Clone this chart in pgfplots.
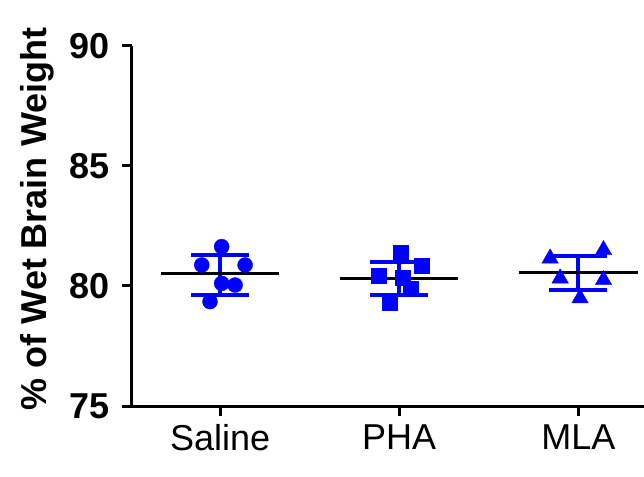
\documentclass[border=0pt]{standalone}
\usepackage{pgfplots}
\pgfplotsset{compat=1.18}
\usepackage{fontspec}
\setmainfont{Liberation Sans}

\begin{document}
\begin{tikzpicture}
\begin{axis}[
  scale only axis,
  width=512.3bp, height=360bp,
  xmin=0.507, xmax=3.366,
  ymin=75, ymax=90,
  axis lines=left,
  axis line style={-, line width=3bp},
  xtick={1,2,3},
  xticklabels={Saline,PHA,MLA},
  ytick={75,80,85,90},
  tick align=outside,
  major tick length=10bp,
  every tick/.style={black, line width=3bp},
  /pgf/number format/assume math mode=true,
  tick label style={font=\fontsize{36bp}{43bp}\selectfont},
  yticklabel style={font=\fontsize{36bp}{43bp}\selectfont\bfseries, xshift=-9bp},
  xticklabel style={yshift=-5bp},
  ylabel={\% of Wet Brain Weight},
  ylabel style={font=\fontsize{36bp}{43bp}\selectfont\bfseries, xshift=7bp},
  ylabel shift=8bp,
  clip=false,
]
% individual points
\addplot[only marks, mark=*, mark size=7.5bp, blue, mark options={fill=blue, draw=blue}]
  coordinates {(1.009,81.64) (0.898,80.875) (1.140,80.875) (1.009,80.11) (1.084,80.04) (0.944,79.35)};
\addplot[only marks, mark=square*, mark size=7.5bp, blue, mark options={fill=blue, draw=blue}]
  coordinates {(2.008,81.39) (2.128,80.83) (1.883,80.43) (2.017,80.36) (2.064,79.90) (1.948,79.30)};
\addplot[only marks, mark=triangle*, mark size=9.5bp, blue, mark options={fill=blue, draw=blue}]
  coordinates {(3.140,81.50) (2.842,81.15) (2.898,80.32) (3.140,80.25) (3.009,79.49)};
% SD bars
\addplot[draw=none, mark=none, blue,
  error bars/.cd, y dir=both, y explicit,
  error bar style={blue, line width=4bp},
  error mark options={blue, line width=4bp, mark size=29bp, rotate=90}]
  coordinates {(1,80.46) +- (0,0.83) (2,80.32) +- (0,0.69) (3,80.53) +- (0,0.70)};
% means
\addplot[black, line width=3bp] coordinates {(0.67,80.53) (1.33,80.53)};
\addplot[black, line width=3bp] coordinates {(1.67,80.32) (2.33,80.32)};
\addplot[black, line width=3bp] coordinates {(2.67,80.57) (3.33,80.57)};
\coordinate (O) at (rel axis cs:0,0);
\coordinate (T) at (rel axis cs:1,1);
\end{axis}
\pgfresetboundingbox
\path ([shift={(-131.7bp,-71bp)}]O) rectangle ([shift={(0bp,46bp)}]T);
\end{tikzpicture}
\end{document}
